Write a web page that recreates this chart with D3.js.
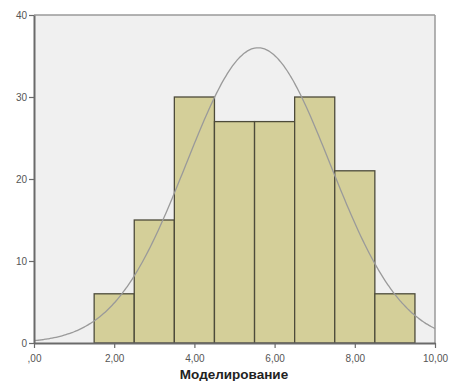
<!DOCTYPE html>
<html><head><meta charset="utf-8">
<script src="https://cdn.jsdelivr.net/npm/d3@7"></script>
<style>body{margin:0;background:#fff}svg{display:block}</style>
</head><body><svg id="c" width="449" height="381"></svg>
<script>
const binStarts = [1.5, 2.5, 3.5, 4.5, 5.5, 6.5, 7.5, 8.5];
const binWidth = 1;
const counts = [6, 15, 30, 27, 27, 30, 21, 6];
const xTicks = [0, 2, 4, 6, 8, 10];
const xTickLabels = [",00", "2,00", "4,00", "6,00", "8,00", "10,00"];
const yTicks = [0, 10, 20, 30, 40];
const curveMean = 5.59;
const curveSd = 1.795;
const curveN = 162;
const xTitle = "Моделирование";

const svg = d3.select("#c");
const L = 34, R = 435, T = 15, B = 343;
const x = d3.scaleLinear().domain([0, 10]).range([L, R]);
const y = d3.scaleLinear().domain([0, 40]).range([B, T]);

svg.append("rect").attr("x", L).attr("y", T).attr("width", R - L).attr("height", B - T)
  .attr("fill", "#f0f0f0");

svg.append("g").selectAll("rect").data(counts).join("rect")
  .attr("x", (d, i) => x(binStarts[i]))
  .attr("y", d => y(d))
  .attr("width", (d, i) => x(binStarts[i] + binWidth) - x(binStarts[i]))
  .attr("height", d => y(0) - y(d))
  .attr("fill", "#d4cf99").attr("stroke", "#4d4b3a").attr("stroke-width", 1.3);

const pts = d3.range(0, 10.001, 0.05).map(v => [v,
  curveN * binWidth / (curveSd * Math.sqrt(2 * Math.PI)) * Math.exp(-0.5 * ((v - curveMean) / curveSd) ** 2)]);
svg.append("path").datum(pts)
  .attr("d", d3.line().x(d => x(d[0])).y(d => y(d[1])).curve(d3.curveBasis))
  .attr("fill", "none").attr("stroke", "#9a9a9a").attr("stroke-width", 1.3);

// frame
svg.append("line").attr("x1", L).attr("x2", R).attr("y1", T).attr("y2", T).attr("stroke", "#9a9a9a").attr("stroke-width", 1.5);
svg.append("line").attr("x1", R).attr("x2", R).attr("y1", T).attr("y2", B).attr("stroke", "#9a9a9a").attr("stroke-width", 1.5);

const xAxis = svg.append("g").attr("transform", `translate(0,${B})`)
  .call(d3.axisBottom(x).tickValues(xTicks).tickFormat((d, i) => xTickLabels[i]).tickSize(5).tickSizeOuter(0));
const yAxis = svg.append("g").attr("transform", `translate(${L},0)`)
  .call(d3.axisLeft(y).tickValues(yTicks).tickSize(5).tickSizeOuter(0));
[xAxis, yAxis].forEach(g => {
  g.select(".domain").attr("stroke", "#6a6a6a").attr("stroke-width", 2);
  g.selectAll(".tick line").attr("stroke", "#6a6a6a").attr("stroke-width", 1.2);
  g.selectAll("text").attr("fill", "#555").attr("font-family", "Arial, 'Liberation Sans', sans-serif").attr("font-size", 10);
});
xAxis.selectAll("text").attr("dy", "1.1em");
yAxis.selectAll("text").attr("dx", "0.1em");

svg.append("text").attr("x", 234).attr("y", 379).attr("text-anchor", "middle")
  .attr("font-family", "Arial, 'Liberation Sans', sans-serif").attr("font-weight", "bold").attr("font-size", 13.5)
  .attr("fill", "#222").text(xTitle);
</script></body></html>
